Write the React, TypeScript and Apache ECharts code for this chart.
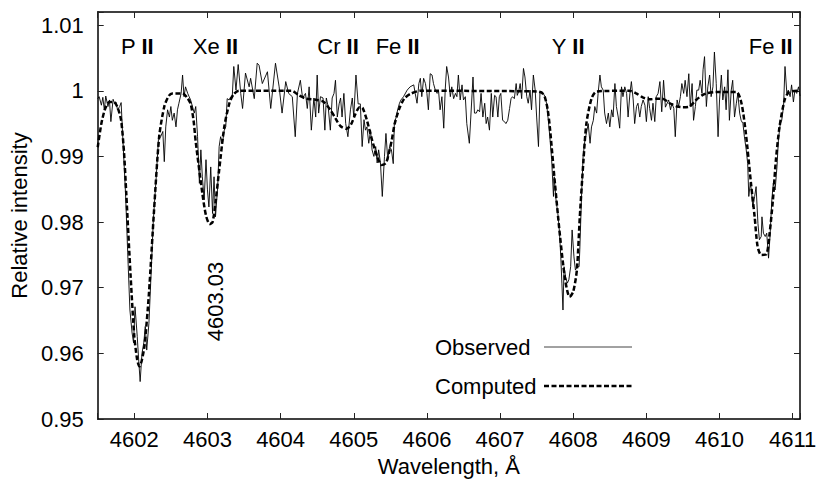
import React, { useEffect, useRef } from "react";
import * as echarts from "echarts";

type Pt = [number, number];

// ---- axis ranges / ticks ----
const xMin = 4601.5;
const xMax = 4611.1;
const yMin = 0.95;
const yMax = 1.012;
const yStep = 0.01;

// ---- ion labels ----
const ionElements = ["P", "Xe", "Cr", "Fe", "Y", "Fe"];
const ionStages = ["II", "II", "II", "II", "II", "II"];
const ionWavelengths = [4602.04, 4603.11, 4604.785, 4605.6, 4607.93, 4610.7];
const ionLabelLevel = 1.0068;
const lineIdText = "4603.03";
const lineIdPos: Pt = [4603.11, 0.9679];

// ---- observed spectrum (segments) ----
const observedPII: Pt[] = [
  [4601.5, 0.9988], [4601.52, 0.9991], [4601.55, 0.9978], [4601.57, 0.999], [4601.59, 0.9971],
  [4601.61, 0.9992], [4601.64, 0.9976], [4601.66, 0.9986], [4601.68, 0.9953], [4601.71, 0.9987],
  [4601.73, 0.9981], [4601.75, 0.9983], [4601.77, 0.9971], [4601.8, 0.9976], [4601.82, 0.9982],
  [4601.84, 0.9935], [4601.88, 0.9844], [4601.91, 0.9753], [4601.94, 0.9666], [4601.97, 0.9631],
  [4601.99, 0.9616], [4602.01, 0.9671], [4602.04, 0.9626], [4602.06, 0.959], [4602.08, 0.9557],
  [4602.105, 0.96], [4602.13, 0.9616], [4602.15, 0.9641], [4602.17, 0.9605], [4602.2, 0.9646],
  [4602.23, 0.9722], [4602.26, 0.9803], [4602.3, 0.9869], [4602.33, 0.9925],
];
const observedXeII: Pt[] = [
  [4602.36, 0.993], [4602.39, 0.9938], [4602.41, 0.9892], [4602.43, 0.9945], [4602.455, 0.9971],
  [4602.48, 0.996], [4602.5, 0.9976], [4602.52, 0.9955], [4602.545, 0.9966], [4602.57, 0.9945],
  [4602.59, 0.9971], [4602.61, 0.9981], [4602.64, 0.9996], [4602.66, 1.0024], [4602.68, 0.9991],
  [4602.7, 1.0006], [4602.73, 0.9996], [4602.75, 0.9991], [4602.77, 0.9986], [4602.82, 0.9966],
  [4602.84, 0.9976], [4602.865, 0.993], [4602.89, 0.9859], [4602.91, 0.991], [4602.93, 0.9869],
  [4602.955, 0.9834], [4602.98, 0.9895], [4603.0, 0.9849], [4603.02, 0.9823], [4603.045, 0.9884],
  [4603.07, 0.9813], [4603.09, 0.9869], [4603.11, 0.9808], [4603.14, 0.9854], [4603.16, 0.9915],
  [4603.18, 0.993], [4603.205, 0.992], [4603.23, 0.994], [4603.25, 0.9945], [4603.27, 0.9988],
  [4603.295, 0.9986], [4603.32, 0.9991], [4603.34, 0.9993], [4603.36, 1.0037], [4603.39, 1.0001],
];
const observedCrFe: Pt[] = [
  [4603.42, 1.004], [4603.455, 0.9996], [4603.48, 0.9973], [4603.52, 1.0027], [4603.57, 1.0006],
  [4603.59, 1.0019], [4603.64, 0.9988], [4603.68, 1.0042], [4603.705, 1.0039], [4603.75, 1.0011],
  [4603.82, 1.0029], [4603.865, 0.9973], [4603.93, 1.0042], [4603.98, 1.0006], [4604.02, 0.9966],
  [4604.07, 1.0014], [4604.11, 0.9996], [4604.16, 0.9991], [4604.2, 0.993], [4604.23, 0.9996],
  [4604.27, 1.0016], [4604.3, 0.9989], [4604.34, 0.9996], [4604.365, 0.9973], [4604.39, 1.0006],
  [4604.42, 0.994], [4604.455, 0.9989], [4604.48, 0.996], [4604.5, 1.0024], [4604.52, 0.9966],
  [4604.545, 0.9991], [4604.58, 0.9989], [4604.605, 0.994], [4604.625, 0.9989], [4604.65, 0.9976],
  [4604.68, 0.994], [4604.705, 0.9989], [4604.73, 0.9996], [4604.75, 1.0016], [4604.775, 0.996],
  [4604.8, 0.998], [4604.82, 0.9989], [4604.84, 0.996], [4604.865, 0.9996], [4604.89, 0.995],
  [4604.92, 0.993], [4604.955, 0.9971], [4604.98, 0.9989], [4605.0, 0.996], [4605.03, 1.0024],
  [4605.06, 0.998], [4605.09, 0.998], [4605.115, 0.9915], [4605.14, 0.9956], [4605.16, 0.994],
  [4605.18, 0.9945], [4605.205, 0.992], [4605.23, 0.994], [4605.25, 0.991], [4605.275, 0.99],
  [4605.3, 0.9915], [4605.32, 0.989], [4605.34, 0.991], [4605.365, 0.989], [4605.39, 0.9839],
  [4605.42, 0.99], [4605.44, 0.9935], [4605.465, 0.9895], [4605.49, 0.9915], [4605.515, 0.991],
  [4605.54, 0.9889], [4605.555, 0.995], [4605.58, 0.996], [4605.6, 0.9971], [4605.625, 0.9981],
  [4605.645, 0.9986], [4605.68, 0.9991], [4605.73, 1.0001],
];
const observedContinuum: Pt[] = [
  [4605.77, 1.0006], [4605.82, 1.0009], [4605.84, 0.9996], [4605.865, 0.9981], [4605.89, 1.0011],
  [4605.91, 1.0019], [4605.93, 0.9991], [4605.955, 1.0019], [4605.98, 1.0011], [4606.0, 0.9996],
  [4606.02, 0.9971], [4606.045, 1.0026], [4606.07, 1.0024], [4606.09, 1.0011], [4606.115, 1.0001],
  [4606.14, 0.9996], [4606.16, 0.9999], [4606.18, 0.9971], [4606.205, 0.9991], [4606.23, 0.9943],
  [4606.25, 1.0001], [4606.27, 1.0037], [4606.295, 1.0021], [4606.32, 0.9991], [4606.34, 1.0006],
  [4606.365, 0.9988], [4606.39, 0.9996], [4606.41, 0.9991], [4606.43, 1.0024], [4606.455, 0.9986],
  [4606.48, 1.0009], [4606.5, 0.9986], [4606.525, 0.9991], [4606.545, 0.995], [4606.58, 0.992],
  [4606.6, 0.996], [4606.63, 1.0021], [4606.65, 0.9966], [4606.675, 0.9966], [4606.695, 0.9971],
  [4606.72, 0.9968], [4606.74, 0.9996], [4606.765, 0.996], [4606.79, 0.9981], [4606.81, 0.995],
  [4606.83, 0.996], [4606.855, 0.994], [4606.88, 0.9996], [4606.9, 0.996], [4606.925, 0.9993],
  [4606.945, 0.9991], [4606.97, 0.996], [4606.99, 0.9991], [4607.01, 0.9996], [4607.035, 0.9955],
  [4607.06, 0.9953], [4607.08, 0.995], [4607.105, 0.9955], [4607.13, 0.9973], [4607.15, 0.9988],
  [4607.17, 0.9991], [4607.195, 0.9988], [4607.22, 1.0011], [4607.235, 0.9993], [4607.255, 0.9999],
  [4607.275, 1.0011], [4607.295, 0.9988], [4607.32, 1.0034], [4607.34, 1.0021], [4607.365, 0.9991],
  [4607.385, 0.9981],
];
const observedYII: Pt[] = [
  [4607.41, 1.0001], [4607.43, 0.9971], [4607.455, 1.0024], [4607.48, 1.0001], [4607.5, 0.996],
  [4607.525, 0.9915], [4607.545, 0.9996], [4607.57, 0.9999], [4607.59, 0.9996], [4607.615, 0.9991],
  [4607.635, 0.9981], [4607.66, 0.9955], [4607.68, 0.993], [4607.705, 0.9895], [4607.73, 0.9839],
  [4607.74, 0.9869], [4607.765, 0.9834], [4607.79, 0.9813], [4607.81, 0.9788], [4607.83, 0.9747],
  [4607.845, 0.9707], [4607.86, 0.9666], [4607.875, 0.9732], [4607.895, 0.9717], [4607.92, 0.9707],
  [4607.94, 0.9712], [4607.965, 0.9732], [4607.985, 0.9788], [4608.01, 0.9747], [4608.03, 0.9727],
  [4608.055, 0.9732], [4608.08, 0.9732], [4608.09, 0.9758], [4608.115, 0.9844], [4608.135, 0.99],
  [4608.16, 0.9925], [4608.18, 0.9935], [4608.205, 0.995], [4608.23, 0.992], [4608.25, 0.9945],
  [4608.275, 0.9955], [4608.295, 0.9976], [4608.32, 0.9966], [4608.34, 0.9996], [4608.365, 1.0024],
  [4608.385, 1.0006], [4608.41, 1.0001], [4608.43, 0.9966], [4608.455, 0.995], [4608.48, 0.9966],
  [4608.5, 0.9945], [4608.525, 0.9971], [4608.545, 0.996], [4608.57, 1.0011], [4608.59, 0.9976],
  [4608.615, 0.996], [4608.635, 0.9943], [4608.66, 1.0006], [4608.68, 0.9991], [4608.705, 1.0006],
  [4608.73, 0.9996], [4608.75, 0.996], [4608.775, 0.9996], [4608.795, 1.0014], [4608.82, 0.9986],
  [4608.84, 0.995], [4608.865, 0.9976], [4608.885, 0.9981], [4608.91, 0.996], [4608.93, 0.9976],
  [4608.955, 0.9986], [4608.98, 0.9978], [4609.0, 0.9953], [4609.025, 0.9991], [4609.045, 0.9973],
  [4609.07, 0.9955], [4609.09, 0.9981], [4609.115, 0.9953], [4609.135, 0.9991], [4609.16, 0.9996],
  [4609.185, 1.0014], [4609.21, 0.9968], [4609.235, 1.0016], [4609.26, 0.9975],
];
const observedFeII: Pt[] = [
  [4609.305, 0.9986], [4609.33, 0.9971], [4609.35, 0.9981], [4609.375, 0.9973], [4609.395, 0.993],
  [4609.42, 0.9986], [4609.44, 0.9976], [4609.465, 0.9991], [4609.485, 1.0011], [4609.51, 0.9996],
  [4609.53, 1.0016], [4609.555, 0.9991], [4609.58, 1.0026], [4609.6, 0.9976], [4609.625, 1.0011],
  [4609.645, 0.9955], [4609.67, 0.9976], [4609.69, 1.0001], [4609.715, 1.0001], [4609.735, 1.0016],
  [4609.76, 0.9996], [4609.775, 1.0032], [4609.795, 1.0052], [4609.82, 0.9976], [4609.84, 1.0006],
  [4609.865, 1.0024], [4609.885, 0.9991], [4609.91, 1.0006], [4609.93, 1.0059], [4609.955, 1.0011],
  [4609.98, 0.993], [4610.0, 0.9986], [4610.025, 1.0024], [4610.045, 0.9986], [4610.07, 1.0006],
  [4610.09, 0.9971], [4610.115, 1.0032], [4610.135, 0.9955], [4610.16, 1.0001], [4610.18, 1.0016],
  [4610.205, 0.996], [4610.23, 0.9981], [4610.25, 0.9996], [4610.275, 0.9966], [4610.295, 0.9955],
  [4610.32, 0.995], [4610.34, 0.993], [4610.365, 0.991], [4610.385, 0.9889], [4610.4, 0.9839],
  [4610.42, 0.9859], [4610.435, 0.9849], [4610.455, 0.9823], [4610.48, 0.9839], [4610.5, 0.9854],
  [4610.525, 0.9798], [4610.545, 0.9773], [4610.57, 0.9778], [4610.58, 0.9808], [4610.6, 0.9783],
  [4610.625, 0.9778], [4610.645, 0.9783], [4610.67, 0.9745], [4610.69, 0.9778], [4610.715, 0.9834],
  [4610.735, 0.9859], [4610.76, 0.9849], [4610.785, 0.9884], [4610.805, 0.9925], [4610.83, 0.995],
  [4610.85, 0.9955], [4610.875, 0.9976], [4610.895, 1.0037], [4610.92, 0.9996], [4610.94, 1.0001],
  [4610.965, 0.9991], [4610.985, 1.0009], [4611.01, 0.9983], [4611.03, 1.0001], [4611.055, 0.9996],
  [4611.08, 1.0006], [4611.1, 0.9992],
];

// ---- computed (synthetic) spectrum (segments) ----
const computedPII: Pt[] = [
  [4601.5, 0.9914], [4601.55, 0.995], [4601.6, 0.9972], [4601.66, 0.9983], [4601.72, 0.9983],
  [4601.77, 0.9975], [4601.82, 0.9955], [4601.86, 0.9905], [4601.89, 0.9844], [4601.95, 0.9717],
  [4602.0, 0.9626], [4602.04, 0.959], [4602.07, 0.958], [4602.1, 0.9588], [4602.14, 0.9612],
  [4602.2, 0.9691], [4602.27, 0.9818], [4602.34, 0.993], [4602.41, 0.9976], [4602.47, 0.9992],
  [4602.52, 0.9996],
];
const computedXeII: Pt[] = [
  [4602.66, 0.9996], [4602.72, 0.999], [4602.77, 0.998], [4602.81, 0.9955], [4602.84, 0.9922],
  [4602.93, 0.9844], [4602.98, 0.981], [4603.03, 0.9797], [4603.07, 0.98], [4603.11, 0.983],
  [4603.16, 0.9879], [4603.23, 0.9945], [4603.3, 0.9981], [4603.36, 0.9995], [4603.43, 1.0],
];
const computedCrFe: Pt[] = [
  [4604.15, 1.0], [4604.25, 0.9993], [4604.35, 0.9988], [4604.5, 0.9986], [4604.59, 0.9983],
  [4604.68, 0.9971], [4604.75, 0.9958], [4604.82, 0.9946], [4604.9, 0.9942], [4604.96, 0.9948],
  [4605.02, 0.9964], [4605.08, 0.9975], [4605.12, 0.9974], [4605.18, 0.9955], [4605.25, 0.9925],
  [4605.32, 0.99], [4605.38, 0.9887], [4605.44, 0.989], [4605.48, 0.9905], [4605.52, 0.9925],
  [4605.56, 0.995], [4605.62, 0.9972], [4605.69, 0.9988], [4605.77, 0.9995], [4605.91, 1.0],
];
const computedYII: Pt[] = [
  [4607.5, 0.9999], [4607.57, 0.9997], [4607.61, 0.9991], [4607.65, 0.9972], [4607.68, 0.9945],
  [4607.75, 0.9859], [4607.82, 0.9778], [4607.89, 0.9712], [4607.95, 0.9686], [4608.0, 0.9694],
  [4608.05, 0.9727], [4608.09, 0.9808], [4608.14, 0.9894], [4608.18, 0.995], [4608.25, 0.9988],
  [4608.32, 0.9999],
];
const computedFeII: Pt[] = [
  [4608.77, 1.0], [4608.86, 0.9996], [4608.95, 0.999], [4609.05, 0.9987], [4609.15, 0.9988],
  [4609.22, 0.9988], [4609.32, 0.9981], [4609.42, 0.9976], [4609.5, 0.9975], [4609.59, 0.9976],
  [4609.68, 0.9986], [4609.76, 0.9993], [4609.82, 0.9996], [4609.95, 0.9998], [4610.23, 0.9998],
  [4610.3, 0.9981], [4610.36, 0.9935], [4610.43, 0.9859], [4610.48, 0.9808], [4610.52, 0.9763],
  [4610.57, 0.975], [4610.64, 0.9751], [4610.68, 0.9778], [4610.73, 0.9834], [4610.77, 0.9894],
  [4610.82, 0.9945], [4610.89, 0.9986], [4610.95, 0.9998], [4611.1, 1.0],
];

const legendNames = ["Observed", "Computed"];

const FONT = '"Liberation Sans", Arial, Helvetica, sans-serif';
const FS = 22;

export default function App() {
  const ref = useRef<HTMLDivElement>(null);

  useEffect(() => {
    if (!ref.current) return;
    const chart = echarts.init(ref.current, undefined, { renderer: "svg" });

    const observed = [
      ...observedPII, ...observedXeII, ...observedCrFe,
      ...observedContinuum, ...observedYII, ...observedFeII,
    ];
    const computed = [
      ...computedPII, ...computedXeII, ...computedCrFe, ...computedYII, ...computedFeII,
    ];

    const ionData = ionWavelengths.map((w, i) => ({
      value: [w, ionLabelLevel],
      label: { formatter: `{n|${ionElements[i]} }{b|${ionStages[i]}}` },
    }));

    const plainText = { color: "#000", textBorderWidth: 0, textBorderColor: "transparent", textShadowBlur: 0, opacity: 1 };

    const frame = { show: true, onZero: false, lineStyle: { color: "#000", width: 1.5 } };
    const ticks = { show: true, inside: true, length: 6, lineStyle: { color: "#222", width: 1 } };

    const xCommon = {
      type: "value" as const,
      min: xMin,
      max: xMax,
      splitNumber: 10,
      minInterval: 1,
      maxInterval: 1,
      splitLine: { show: false },
      axisLine: frame,
      axisTick: ticks,
    };
    const yCommon = {
      type: "value" as const,
      min: yMin,
      max: yMax,
      interval: yStep,
      splitLine: { show: false },
      axisLine: frame,
      axisTick: ticks,
    };

    chart.setOption({
      animation: false,
      backgroundColor: "#fff",
      textStyle: { fontFamily: FONT },
      grid: { left: 97, right: 20, top: 12, bottom: 68, containLabel: false },
      xAxis: [
        {
          ...xCommon,
          position: "bottom",
          axisLabel: {
            fontSize: FS,
            color: "#000",
            fontFamily: FONT,
            margin: 9,
            formatter: (v: number) => (Math.abs(v - Math.round(v)) < 1e-6 ? String(Math.round(v)) : ""),
          },
          name: "Wavelength, Å",
          nameLocation: "middle",
          nameGap: 36,
          nameTextStyle: { fontSize: FS, color: "#000", fontFamily: FONT },
        },
        { ...xCommon, position: "top", axisLabel: { show: false } },
      ],
      yAxis: [
        {
          ...yCommon,
          position: "left",
          axisLabel: {
            fontSize: FS,
            color: "#000",
            fontFamily: FONT,
            margin: 14,
            formatter: (v: number) => (v > 1.0105 ? "" : String(Math.round(v * 100) / 100)),
          },
          name: "Relative intensity",
          nameLocation: "middle",
          nameGap: 66,
          nameTextStyle: { fontSize: FS, color: "#000", fontFamily: FONT },
        },
        { ...yCommon, position: "right", axisLabel: { show: false } },
      ],
      series: [
        {
          name: legendNames[0],
          type: "line",
          data: observed,
          showSymbol: false,
          symbol: "none",
          clip: true,
          lineStyle: { color: "#000", width: 0.9 },
          z: 2,
        },
        {
          name: legendNames[1],
          type: "line",
          data: computed,
          showSymbol: false,
          symbol: "none",
          smooth: 0.25,
          clip: true,
          lineStyle: { color: "#000", width: 2.5, type: [5, 2.5] },
          z: 3,
        },
        {
          name: "ions",
          type: "scatter",
          data: ionData,
          symbolSize: 0,
          silent: true,
          itemStyle: { color: "#000", opacity: 1 },
          label: {
            show: true,
            position: [0, 0],
            align: "center",
            verticalAlign: "middle",
            ...plainText,
            rich: {
              n: { fontSize: FS, fontFamily: FONT, ...plainText },
              b: { fontSize: FS, fontFamily: FONT, fontWeight: "bold", ...plainText },
            },
          },
          z: 5,
        },
        {
          name: "lineId",
          type: "scatter",
          data: [{ value: lineIdPos }],
          symbolSize: 0,
          silent: true,
          itemStyle: { color: "#000", opacity: 1 },
          label: {
            show: true,
            formatter: lineIdText,
            position: [0, 0],
            rotate: 90,
            align: "center",
            verticalAlign: "middle",
            fontSize: FS,
            fontFamily: FONT,
            ...plainText,
          },
          z: 5,
        },
      ],
      graphic: [
        {
          type: "text",
          x: 435,
          y: 347,
          style: { text: legendNames[0], fontSize: FS, fontFamily: FONT, fill: "#000", align: "left", verticalAlign: "middle" },
        },
        {
          type: "line",
          shape: { x1: 544, y1: 347, x2: 632, y2: 347 },
          style: { stroke: "#444", lineWidth: 1 },
        },
        {
          type: "text",
          x: 435,
          y: 386,
          style: { text: legendNames[1], fontSize: FS, fontFamily: FONT, fill: "#000", align: "left", verticalAlign: "middle" },
        },
        {
          type: "line",
          shape: { x1: 544, y1: 386, x2: 632, y2: 386 },
          style: { stroke: "#000", lineWidth: 2.5, lineDash: [5, 2.5] },
        },
      ],
    });

    return () => chart.dispose();
  }, []);

  return (
    <div
      ref={ref}
      style={{ position: "absolute", left: 0, top: 0, width: 820, height: 487, background: "#fff" }}
    />
  );
}
